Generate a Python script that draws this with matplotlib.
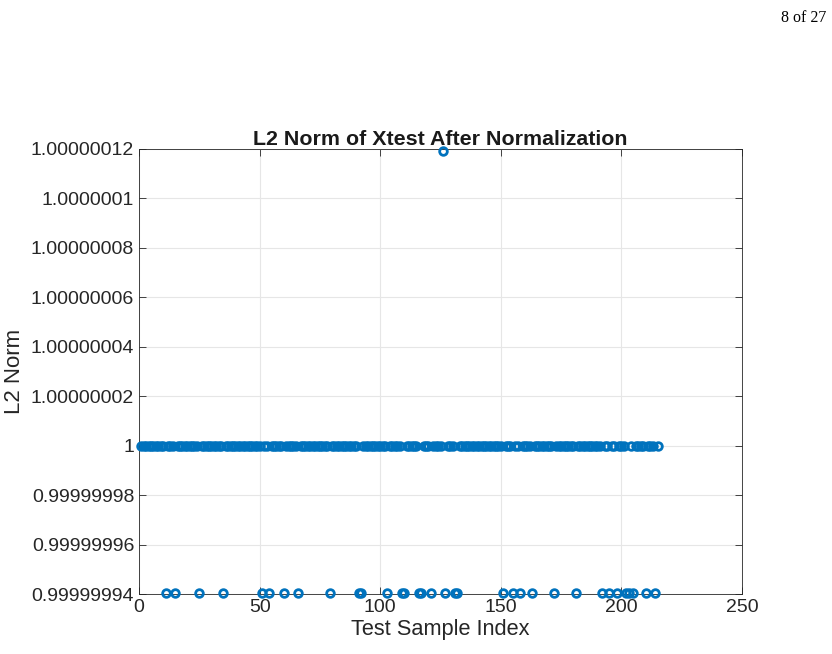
import numpy as np
from matplotlib import pyplot as plt

# L2 norms of the 215 test samples after normalization
n_samples = 215
low_idx = [11, 15, 25, 35, 51, 54, 60, 66, 79, 91, 92, 103, 109, 110, 116, 117,
           121, 127, 131, 132, 151, 155, 158, 163, 172, 181, 192, 195, 198,
           202, 203, 205, 210, 214]
high_idx = [126]
low_val = 0.9999999404
high_val = 1.0000001192

idx = np.arange(1, n_samples + 1)
norms = np.ones(n_samples)
for i in low_idx:
    norms[i - 1] = low_val
for i in high_idx:
    norms[i - 1] = high_val

ytick_vals = [0.99999994, 0.99999996, 0.99999998, 1.0, 1.00000002,
              1.00000004, 1.00000006, 1.00000008, 1.0000001, 1.00000012]
ytick_labels = ['0.99999994', '0.99999996', '0.99999998', '1', '1.00000002',
                '1.00000004', '1.00000006', '1.00000008', '1.0000001', '1.00000012']

plt.rcParams['font.family'] = ['Liberation Sans', 'DejaVu Sans']

fig = plt.figure(figsize=(8.32, 6.54), dpi=100)
ax = fig.add_axes([0.1671, 0.0917, 0.7247, 0.6805])

ax.plot(idx, norms, ls='none', marker='o', ms=5.5, mfc='none',
        mec='#0072BD', mew=2.0, clip_on=False, zorder=3)

ax.set_xlim(0, 250)
ax.set_ylim(0.99999994, 1.00000012)
ax.set_xticks([0, 50, 100, 150, 200, 250])
ax.set_yticks(ytick_vals)
ax.set_yticklabels(ytick_labels)
ax.tick_params(direction='in', top=True, right=True, labelsize=14,
               color='#262626', labelcolor='#262626', length=5, width=0.6)
ax.grid(True, color='#e6e6e6', lw=0.8)
ax.set_axisbelow(True)
for s in ax.spines.values():
    s.set_color('#262626')
    s.set_linewidth(0.6)

ax.set_title('L2 Norm of Xtest After Normalization', fontsize=15.4,
             fontweight='bold', color='#1a1a1a', pad=3)
ax.set_xlabel('Test Sample Index', fontsize=15.7, color='#262626', labelpad=2)
ax.set_ylabel('L2 Norm', fontsize=16, color='#262626', labelpad=4)

fig.text(0.993, 0.972, '8 of 27', ha='right', va='center', fontsize=11.5,
         family=['Liberation Serif', 'DejaVu Serif'])

fig.savefig('out.png', dpi=100)
